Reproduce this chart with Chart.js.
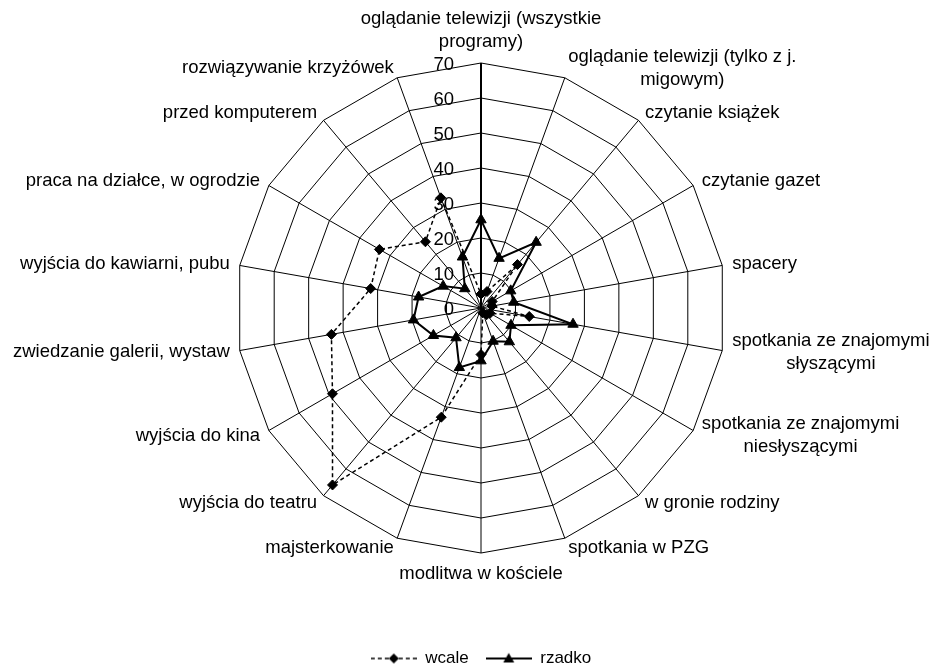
<!DOCTYPE html>
<html lang="pl">
<head>
<meta charset="utf-8">
<title>Spędzanie czasu wolnego</title>
<script src="https://cdn.jsdelivr.net/npm/chart.js@4.4.0/dist/chart.umd.min.js"></script>
<style>
  html, body { margin: 0; padding: 0; background: #fff; }
  #wrap { width: 935px; height: 667px; position: relative; }
</style>
</head>
<body>
<div id="wrap"><canvas id="myChart"></canvas></div>
<script>
// categories, clockwise from the top
var categories = [
    ['oglądanie telewizji (wszystkie', 'programy)'],
    ['oglądanie telewizji (tylko z j.', 'migowym)'],
    'czytanie książek',
    'czytanie gazet',
    'spacery',
    ['spotkania ze znajomymi', 'słyszącymi'],
    ['spotkania ze znajomymi', 'niesłyszącymi'],
    'w gronie rodziny',
    'spotkania w PZG',
    'modlitwa w kościele',
    'majsterkowanie',
    'wyjścia do teatru',
    'wyjścia do kina',
    'zwiedzanie galerii, wystaw',
    'wyjścia do kawiarni, pubu',
    'praca na działce, w ogrodzie',
    'przed komputerem',
    'rozwiązywanie krzyżówek'
];
var seriesNames = ['wcale', 'rzadko'];
var wcale = [4, 5, 16.2, 3.7, 3.2, 14, 3, 2.5, 1.5, 13.3, 33.2, 66, 49, 43.4, 32, 33.5, 24.7, 33.5];
var rzadko = [25.2, 15.1, 24.5, 9.8, 9.5, 26.7, 9.9, 12.6, 10.1, 15.1, 18.1, 11.1, 15.7, 19.6, 18.1, 12.5, 7.2, 15.5];
var tickLabels = ['0', '10', '20', '30', '40', '50', '60', '70'];

var fontFamily = '"Liberation Sans", Arial, sans-serif';
var labelFont = '18.5px ' + fontFamily;
var lineH = 22.5;

// little legend glyphs: line with the marker in the middle
function makeIcon(dashed) {
    var c = document.createElement('canvas');
    c.width = 46;
    c.height = 14;
    var g = c.getContext('2d');
    g.strokeStyle = '#000';
    g.fillStyle = '#000';
    g.lineWidth = dashed ? 1.5 : 2;
    if (dashed) g.setLineDash([4, 3]);
    g.beginPath();
    g.moveTo(0, 7);
    g.lineTo(46, 7);
    g.stroke();
    g.setLineDash([]);
    g.beginPath();
    if (dashed) {
        g.moveTo(23, 2); g.lineTo(28, 7); g.lineTo(23, 12); g.lineTo(18, 7);
    } else {
        g.moveTo(23, 1.5); g.lineTo(28.5, 11); g.lineTo(17.5, 11);
    }
    g.closePath();
    g.fill();
    return c;
}
var legendIcons = [makeIcon(true), makeIcon(false)];

// tick numbers left of the vertical axis and the category labels
var radarText = {
    id: 'radarText',
    beforeDatasetsDraw: function(chart) {
        var scale = chart.scales.r;
        var ctx = chart.ctx;
        ctx.save();
        ctx.font = labelFont;
        ctx.fillStyle = '#000';

        ctx.textAlign = 'right';
        ctx.textBaseline = 'middle';
        scale.ticks.forEach(function(t, k) {
            var y = scale.yCenter - scale.getDistanceFromCenterForValue(t.value);
            ctx.fillText(tickLabels[k], scale.xCenter - 27, y + 2);
        });

        ctx.textAlign = 'center';
        for (var i = 0; i < categories.length; i++) {
            var lines = [].concat(categories[i]);
            var p = scale.getPointPosition(i, scale.drawingArea + 10);
            var w = Math.max.apply(null, lines.map(function(s) { return ctx.measureText(s).width; }));
            var h = lines.length * lineH;
            var deg = Math.round(i * 360 / categories.length);
            var cx, top;
            if (deg === 0) {
                cx = p.x; top = p.y - h;
            } else if (deg === 180) {
                cx = p.x; top = p.y;
            } else {
                cx = deg < 180 ? p.x + w / 2 : p.x - w / 2;
                top = p.y - h / 2;
            }
            lines.forEach(function(s, k) {
                ctx.fillText(s, cx, top + lineH * (k + 0.5));
            });
        }
        ctx.restore();
    }
};

var ctx = document.getElementById('myChart').getContext('2d');
var myChart = new Chart(ctx, {
    type: 'radar',
    data: {
        labels: categories,
        datasets: [{
            label: seriesNames[0],
            data: wcale,
            borderColor: '#000',
            borderWidth: 1.5,
            borderDash: [4, 3],
            fill: false,
            pointStyle: 'rectRot',
            pointRadius: 5,
            pointBackgroundColor: '#000',
            pointBorderColor: '#000',
            pointBorderWidth: 1
        },
        {
            label: seriesNames[1],
            data: rzadko,
            borderColor: '#000',
            borderWidth: 2,
            fill: false,
            pointStyle: 'triangle',
            pointRadius: 6,
            pointBackgroundColor: '#000',
            pointBorderColor: '#000',
            pointBorderWidth: 1
        }]
    },
    options: {
        responsive: true,
        maintainAspectRatio: false,
        animation: false,
        layout: {
            padding: { left: 27, right: 0, top: 63, bottom: -10 }
        },
        scales: {
            r: {
                min: 0,
                max: Number(tickLabels[tickLabels.length - 1]),
                ticks: { display: false, stepSize: 10 },
                pointLabels: { display: false },
                grid: { color: '#000', lineWidth: 1 },
                angleLines: {
                    color: '#000',
                    lineWidth: function(c) { return c.index === 0 ? 2 : 1; }
                }
            }
        },
        plugins: {
            tooltip: { enabled: false },
            legend: {
                position: 'bottom',
                title: { display: true, text: '', padding: { top: 70, bottom: 0 }, font: { size: 10, lineHeight: 1 } },
                labels: {
                    usePointStyle: true,
                    pointStyleWidth: 46,
                    padding: 17,
                    color: '#000',
                    font: { size: 17, family: fontFamily },
                    generateLabels: function(chart) {
                        return chart.data.datasets.map(function(ds, i) {
                            return {
                                text: ds.label,
                                fontColor: '#000',
                                pointStyle: legendIcons[i],
                                datasetIndex: i,
                                hidden: false,
                                lineWidth: 0,
                                fillStyle: 'rgba(0,0,0,0)',
                                strokeStyle: 'rgba(0,0,0,0)'
                            };
                        });
                    }
                }
            }
        }
    },
    plugins: [radarText]
});
</script>
</body>
</html>
